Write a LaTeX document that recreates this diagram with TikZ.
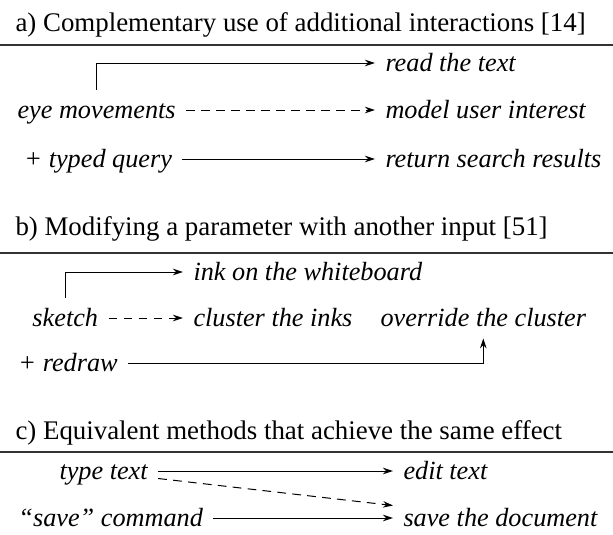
\documentclass[tikz,border=0pt]{standalone}
\usepackage{fontspec}
\setmainfont{Liberation Serif}
\usetikzlibrary{arrows.meta,calc}
\tikzset{
    heading/.style = {anchor=base west,
                    inner sep=0pt,
                    font=\fontsize{10.75}{13}\selectfont},
    lbl/.style =    {anchor=west,
                    font=\fontsize{10.5}{12.5}\selectfont\itshape,
                    inner xsep=4pt,
                    inner ysep=3.6pt,
                    text height=1.7ex,
                    text depth=.2ex},
    hrule/.style =  {line width=0.6pt,
                    draw=black!80},
    dsh/.style =    {dash pattern=on 3.5pt off 2.5pt},
    >={Stealth[length=4pt,width=2.6pt]},
    line width=0.4pt}

\begin{document}
\begin{tikzpicture}[x=0.4pt,y=-0.4pt]
                    \useasboundingbox (0,0) rectangle (613,534);
                    % a) complementary use
                    \node[heading]  (ta)      at (15,31)    {a) Complementary use of additional interactions [14]};
                    \draw[hrule]    (0,45) -- (613,45);
                    \node[lbl]      (eye)     at (7,110)    {eye movements};
                    \node[lbl]      (typed)   at (14,159)   {+ typed query};
                    \node[lbl]      (read)    at (375,63)   {read the text};
                    \node[lbl]      (model)   at (375,110)  {model user interest};
                    \node[lbl]      (results) at (375,159)  {return search results};
                    \draw[->]       (eye.north) |- (read.west);
                    \draw[->,dsh]   (eye) -- (model);
                    \draw[->]       (typed) -- (results);
                    % b) modifying a parameter
                    \node[heading]  (tb)      at (15,235)   {b) Modifying a parameter with another input [51]};
                    \draw[hrule]    (0,253) -- (613,253);
                    \node[lbl]      (sketch)  at (22,318)   {sketch};
                    \node[lbl]      (redraw)  at (8,363)    {+ redraw};
                    \node[lbl]      (ink)     at (183,272)  {ink on the whiteboard};
                    \node[lbl]      (cluster) at (183,318)  {cluster the inks};
                    \node[lbl]      (over)    at (370,318)  {override the cluster};
                    \draw[->]       (sketch.north) |- (ink.west);
                    \draw[->,dsh]   (sketch) -- (cluster);
                    \draw[->]       (redraw) -| (over.south);
                    % c) equivalent methods
                    \node[heading]  (tc)      at (15,439)   {c) Equivalent methods that achieve the same effect};
                    \draw[hrule]    (0,452) -- (613,452);
                    \node[lbl]      (type)    at (49,471)   {type text};
                    \node[lbl]      (cmd)     at (8,518)    {“save” command};
                    \node[lbl]      (edit)    at (393,471)  {edit text};
                    \node[lbl]      (doc)     at (393,518)  {save the document};
                    \draw[->]       (type) -- (edit);
                    \draw[->,dsh]   ([yshift=-3pt]type.east) -- ([yshift=5pt]doc.west);
                    \draw[->]       (cmd) -- (doc);
\end{tikzpicture}
\end{document}
